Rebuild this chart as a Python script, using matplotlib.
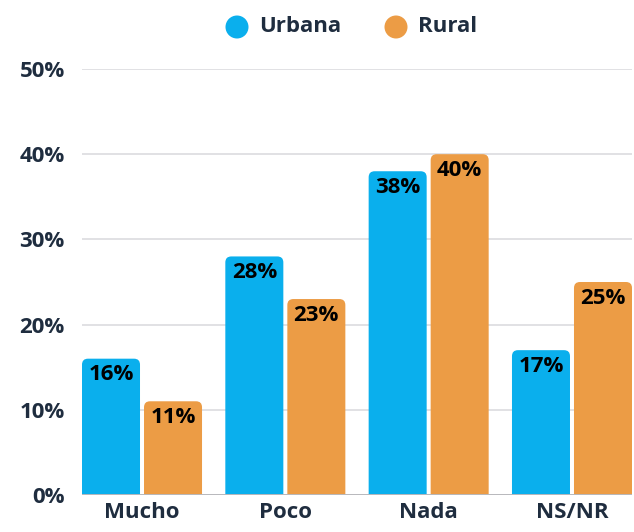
import matplotlib
matplotlib.use("Agg")
import matplotlib.pyplot as plt
from matplotlib.patches import FancyBboxPatch, Ellipse
import numpy as np

categories = ["Mucho", "Poco", "Nada", "NS/NR"]
urbana = [16, 28, 38, 17]
rural = [11, 23, 40, 25]
series_names = ["Urbana", "Rural"]
yticks = [0, 10, 20, 30, 40, 50]

BLUE = "#0aafed"
ORANGE = "#ec9c45"
NAVY = "#1f2d3f"
FONT = "Open Sans"

W, H = 634, 532
fig = plt.figure(figsize=(W / 100, H / 100), dpi=100)
ax_l, ax_r, ax_t, ax_b = 82, 632, 69, 495
ax = fig.add_axes([ax_l / W, 1 - ax_b / H, (ax_r - ax_l) / W, (ax_b - ax_t) / H])

x = np.arange(len(categories))
bw = 58 / 143.3
gap = 4 / 143.3
xlim = (-60 / 143.3, 3 + 60 / 143.3)
ax.set_xlim(*xlim)
ax.set_ylim(0, 50)

px_x = (ax_r - ax_l) / (xlim[1] - xlim[0])
px_y = (ax_b - ax_t) / 50.0
r_px = 6
rs = r_px / px_x
aspect = (r_px / px_y) / rs

for vals, color, off in [(urbana, BLUE, -(bw + gap) / 2), (rural, ORANGE, (bw + gap) / 2)]:
    bars = ax.bar(x + off, vals, width=bw, color=color, alpha=0)
    for b, v in zip(bars, vals):
        p = FancyBboxPatch((b.get_x(), -3), b.get_width(), v + 3,
                           boxstyle=f"round,pad=0,rounding_size={rs}",
                           mutation_aspect=aspect, facecolor=color,
                           edgecolor="none", zorder=2, clip_on=True)
        ax.add_patch(p)
        ax.text(b.get_x() + b.get_width() / 2, v - 16 / px_y, f"{v}%",
                ha="center", va="center", fontsize=16, fontweight="bold",
                color="black", family=FONT, zorder=3)

for yv in yticks[1:]:
    ax.axhline(yv, color="#dcdcdf", lw=1.2, zorder=1)
ax.axhline(0, color="#b8b8bc", lw=1.4, zorder=3)

for s in ax.spines.values():
    s.set_visible(False)
ax.set_yticks(yticks)
ax.set_yticklabels([f"{t}%" for t in yticks], fontsize=16, fontweight="bold",
                   color=NAVY, family=FONT)
ax.set_xticks(x)
ax.set_xticklabels(categories, fontsize=16, fontweight="bold", color=NAVY, family=FONT)
ax.tick_params(axis="y", length=0, pad=12.5)
ax.tick_params(axis="x", length=0, pad=5)

# legend
ly = 1 - 27 / H
for cx, tx, name, color in [(237, 259, series_names[0], BLUE), (396, 418, series_names[1], ORANGE)]:
    fig.patches.append(Ellipse((cx / W, ly), 23 / W, 23 / H, transform=fig.transFigure,
                               facecolor=color, edgecolor="none"))
    fig.text(tx / W, ly, name, ha="left", va="center", fontsize=16, fontweight="bold",
             color=NAVY, family=FONT)

fig.savefig("out.png", dpi=100)
